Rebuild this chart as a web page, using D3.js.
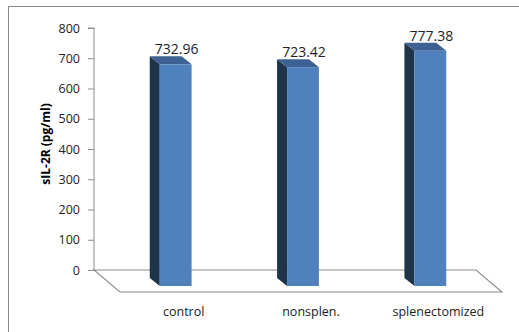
<!DOCTYPE html>
<html>
<head>
<meta charset="utf-8">
<script src="https://cdn.jsdelivr.net/npm/d3@7"></script>
<style>
  html, body { margin: 0; padding: 0; background: #fff; }
  svg { display: block; }
  text { font-family: "Open Sans", "Liberation Sans", sans-serif; }
</style>
</head>
<body>
<svg id="chart" width="519" height="332"></svg>
<script>
// sIL-2R serum levels by group
const categories = ["control", "nonsplen.", "splenectomized"];
const values = [732.96, 723.42, 777.38];
const valueLabels = ["732.96", "723.42", "777.38"];
const yTicks = [0, 100, 200, 300, 400, 500, 600, 700, 800];

const svg = d3.select("#chart");

// outer chart frame (runs off the right and bottom edges)
svg.append("rect")
  .attr("x", 8.5).attr("y", 6.5)
  .attr("width", 600).attr("height", 400)
  .attr("fill", "none").attr("stroke", "#8a8a8a").attr("stroke-width", 1);

// back-plane scales
const x = d3.scaleBand().domain(categories).range([94, 476]);
const y = d3.scaleLinear().domain([0, 800]).range([270, 28]);

// oblique depth offsets: floor front edge, bar back face, bar front face
const floorD = { dx: 26, dy: 22 };
const barBack = { dx: 8, dy: 8 };
const barFront = { dx: 18, dy: 16 };

// floor
const x0 = x.range()[0], x1 = x.range()[1], yb = y(0);
svg.append("path")
  .attr("d", `M${x0},${yb}L${x1},${yb}L${x1 + floorD.dx},${yb + floorD.dy}L${x0 + floorD.dx},${yb + floorD.dy}Z`)
  .attr("fill", "none").attr("stroke", "#8c8c8c").attr("stroke-width", 1.1);

// value axis
const yAxis = d3.axisLeft(y).tickValues(yTicks).tickSize(6).tickPadding(8);
const gy = svg.append("g").attr("transform", `translate(${x0},0)`).call(yAxis);
gy.select(".domain").attr("stroke", "#8c8c8c").attr("d", `M-6,${y(800)}H0V${y(0)}`);
gy.selectAll(".tick line").attr("stroke", "#8c8c8c");
gy.selectAll(".tick text")
  .attr("font-family", "'Open Sans', sans-serif")
  .attr("font-size", 12.5).attr("fill", "#222");

// axis title
svg.append("text")
  .attr("transform", "translate(49.5,144) rotate(-90)")
  .attr("text-anchor", "middle")
  .attr("font-size", 12).attr("font-weight", "bold").attr("fill", "#000")
  .text("sIL-2R (pg/ml)");

// 3D columns
const bw = x.bandwidth() * 0.25;
const bars = svg.append("g");
categories.forEach((c, i) => {
  const cx = x(c) + x.bandwidth() / 2;
  const v = values[i];
  const bL = cx - bw / 2 + barBack.dx, bR = cx + bw / 2 + barBack.dx;
  const fL = cx - bw / 2 + barFront.dx, fR = cx + bw / 2 + barFront.dx;
  const bTop = y(v) + barBack.dy, bBot = y(0) + barBack.dy;
  const fTop = y(v) + barFront.dy, fBot = y(0) + barFront.dy;

  // left side face
  bars.append("path")
    .attr("d", `M${bL},${bTop}L${fL},${fTop}L${fL},${fBot}L${bL},${bBot}Z`)
    .attr("fill", "#1f3349");
  // top face
  bars.append("path")
    .attr("d", `M${bL},${bTop}L${bR},${bTop}L${fR},${fTop}L${fL},${fTop}Z`)
    .attr("fill", "#3c6192");
  // front face
  bars.append("rect")
    .attr("x", fL).attr("y", fTop)
    .attr("width", fR - fL).attr("height", fBot - fTop)
    .attr("fill", "#4f81bd");

  // value label
  svg.append("text")
    .attr("x", cx + barFront.dx + 1).attr("y", bTop - 2)
    .attr("text-anchor", "middle")
    .attr("font-size", 14).attr("fill", "#222")
    .text(valueLabels[i]);

  // category label on the floor front edge
  svg.append("text")
    .attr("x", cx + floorD.dx).attr("y", 316)
    .attr("text-anchor", "middle")
    .attr("font-size", 12.5).attr("fill", "#222")
    .text(c);
});
</script>
</body>
</html>
